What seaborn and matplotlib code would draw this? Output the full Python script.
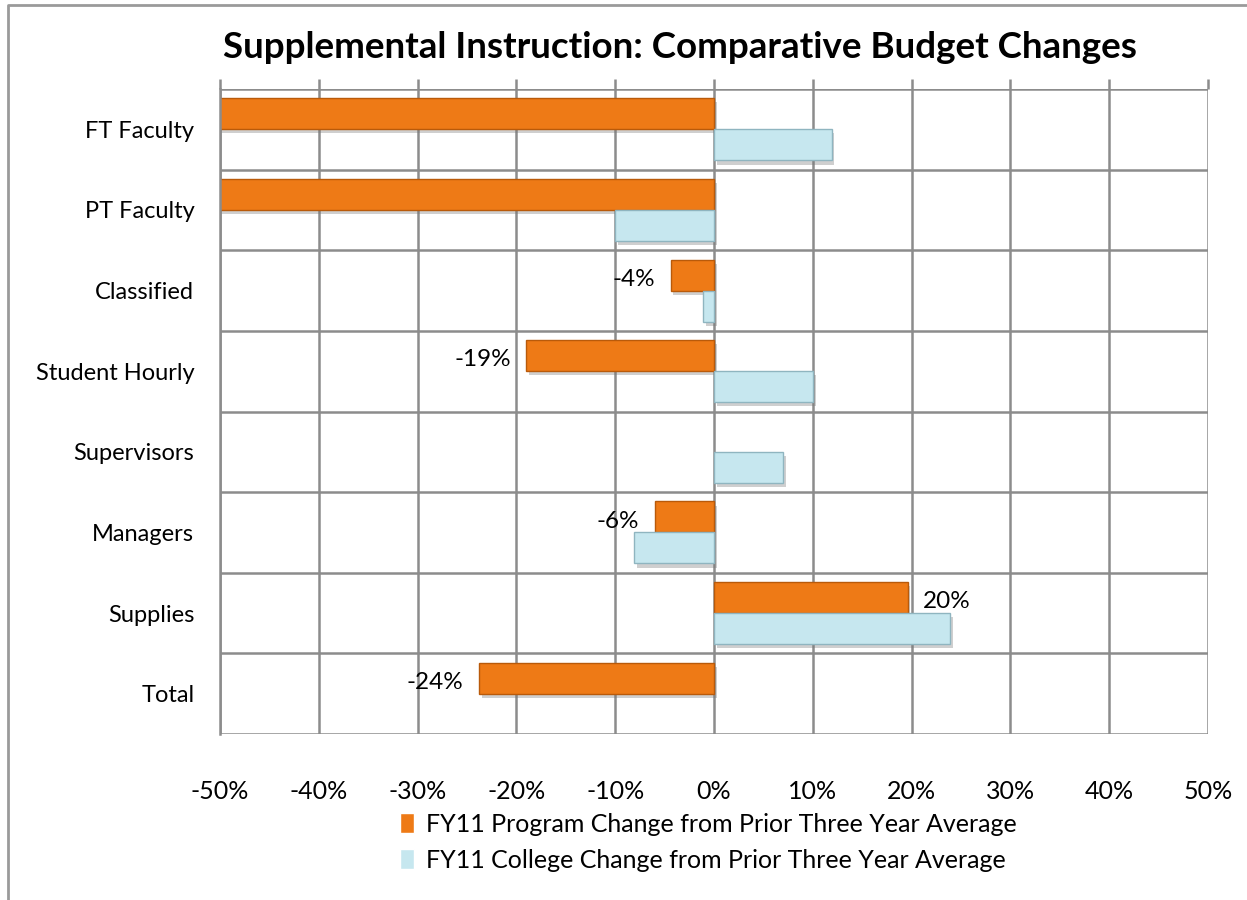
import pandas as pd
import seaborn as sns
import matplotlib.pyplot as plt
from matplotlib import patheffects as pe
from matplotlib.lines import Line2D

# values in percent
categories = ["FT Faculty", "PT Faculty", "Classified", "Student Hourly",
              "Supervisors", "Managers", "Supplies", "Total"]
program_change = [-60, -60, -4.4, -19.0, 0, -6.0, 19.6, -23.8]
college_change = [11.9, -10.0, -1.1, 10.0, 7.0, -8.1, 23.9, 0]
program_labels = ["", "", "-4%", "-19%", "", "-6%", "20%", "-24%"]

series_program = "FY11 Program Change from Prior Three Year Average"
series_college = "FY11 College Change from Prior Three Year Average"
x_ticks = [-50, -40, -30, -20, -10, 0, 10, 20, 30, 40, 50]

df = pd.DataFrame({
    "category": categories * 2,
    "value": program_change + college_change,
    "series": [series_program] * len(categories) + [series_college] * len(categories),
})

sns.set_style("white")
plt.rcParams["font.family"] = ["Lato", "DejaVu Sans"]
plt.rcParams["text.color"] = "black"
plt.rcParams["xtick.color"] = "black"
plt.rcParams["ytick.color"] = "black"

fig = plt.figure(figsize=(12.47, 9), dpi=100)
ax = fig.add_axes([220 / 1247, 1 - 734 / 900, 988 / 1247, 645 / 900])

# outer chart frame (top and left edges visible)
fig.lines.append(Line2D([8 / 1247, 8 / 1247, 1.0], [0.0, 1 - 5 / 900, 1 - 5 / 900],
                        transform=fig.transFigure, color="#9a9a9a", linewidth=2))

palette = {series_program: "#EE7A16", series_college: "#C6E7EF"}
sns.barplot(data=df, x="value", y="category", hue="series", orient="y",
            palette=palette, saturation=1, errorbar=None, width=0.77, ax=ax,
            legend=True)

edge = {series_program: "#B95A0A", series_college: "#8FB5C0"}
for cont, name, vals in zip(ax.containers, [series_program, series_college],
                            [program_change, college_change]):
    for bar, v in zip(cont, vals):
        if v == 0:
            bar.set_visible(False)
            continue
        bar.set_edgecolor(edge[name])
        bar.set_linewidth(1.0)
        bar.set_path_effects([pe.SimplePatchShadow(offset=(2, -3), shadow_rgbFace="#777777", alpha=0.35),
                              pe.Normal()])

# data labels on program bars
for bar, lab, v in zip(ax.containers[0], program_labels, program_change):
    if not lab:
        continue
    y = bar.get_y() + bar.get_height() / 2
    off = 11 if v > 0 else -11
    ax.annotate(lab, (v, y), xytext=(off, -3), textcoords="offset points",
                ha="left" if v > 0 else "right", va="center", fontsize=17.5, color="black")

ax.set_xlim(-50, 50)
ax.set_ylim(len(categories) - 0.5, -0.5)
ax.set_xticks(x_ticks)
ax.set_xticklabels([f"{t}%" for t in x_ticks])
ax.set_yticks(range(len(categories)))
ax.set_yticks([i - 0.5 for i in range(len(categories) + 1)], minor=True)
ax.set_xlabel("")
ax.set_ylabel("")

ax.set_axisbelow(True)
ax.grid(axis="x", which="major", color="#8c8c8c", linewidth=1.8)
ax.grid(axis="y", which="minor", color="#8c8c8c", linewidth=1.8)
ax.grid(axis="y", which="major", visible=False)
for s in ["top", "right", "bottom"]:
    ax.spines[s].set_visible(False)
ax.spines["left"].set_color("#8c8c8c")
ax.spines["left"].set_linewidth(1.8)

ax.tick_params(axis="x", which="major", bottom=False, top=True, labelbottom=True,
               labeltop=False, direction="out", length=7, width=1.8, color="#8c8c8c",
               labelsize=18, pad=26)
ax.tick_params(axis="y", which="both", left=False, labelsize=17, pad=15)

ax.set_title("Supplemental Instruction: Comparative Budget Changes",
             fontsize=26.5, fontweight="bold", pad=22, x=0.466, color="black")

handles, labels = ax.get_legend_handles_labels()
ax.get_legend().remove()
fig.legend(handles, labels, loc="upper left", bbox_to_anchor=(400 / 1247, 1 - 813 / 900),
           frameon=False, fontsize=18, handlelength=0.55, handleheight=0.85,
           handletextpad=0.5, labelspacing=0.5, borderpad=0, borderaxespad=0)

fig.savefig("out.png", dpi=100)
